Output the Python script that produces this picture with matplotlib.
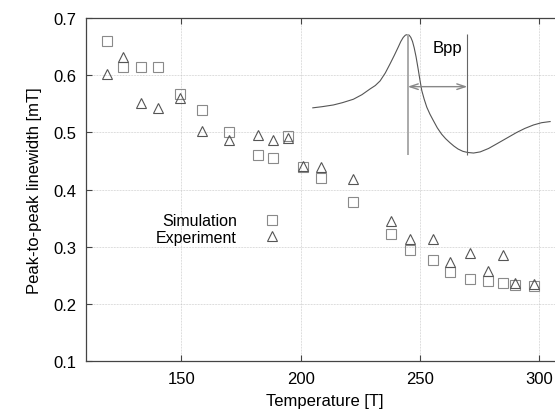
import matplotlib
matplotlib.use('Agg')
import matplotlib.pyplot as plt

plt.rcParams['font.family'] = ['Liberation Sans', 'DejaVu Sans']

# temperatures of the measurements
temp = [119, 125.5, 133, 140, 149.5, 158.5, 170, 182, 188.5, 194.5, 201, 208.5,
        222, 238, 246, 255.5, 262.5, 271, 278.5, 285, 290, 298]
sim = [0.659, 0.615, 0.615, 0.615, 0.567, 0.540, 0.500, 0.461, 0.455, 0.493, 0.440, 0.421,
       0.378, 0.322, 0.295, 0.277, 0.256, 0.244, 0.240, 0.237, 0.234, 0.231]
exp = [0.602, 0.631, 0.551, 0.542, 0.560, 0.503, 0.487, 0.495, 0.486, 0.490, 0.442, 0.440,
       0.418, 0.346, 0.313, 0.313, 0.273, 0.289, 0.258, 0.285, 0.236, 0.235]

# sketch of the derivative line shape (inset)
curve_x = [205.1, 209.0, 213.7, 217.5, 222.1, 225.7, 229.1, 231.3, 233.3, 235.5, 237.5, 239.3,
           240.9, 242.0, 243.0, 243.9, 244.7, 245.5, 246.2, 246.9, 247.6, 248.4, 249.3, 250.0,
           250.8, 251.8, 252.9, 254.2, 255.6, 257.3, 259.1, 260.8, 262.6, 264.3, 266.0, 268.0,
           270.0, 272.5, 275.3, 278.8, 282.2, 286.4, 290.6, 294.0, 297.6, 301.0, 304.6]
curve_y = [0.543, 0.545, 0.548, 0.552, 0.558, 0.566, 0.576, 0.582, 0.590, 0.604, 0.620, 0.635,
           0.649, 0.659, 0.666, 0.670, 0.671, 0.670, 0.666, 0.659, 0.648, 0.632, 0.610, 0.592,
           0.573, 0.558, 0.544, 0.532, 0.521, 0.508, 0.497, 0.489, 0.482, 0.476, 0.471, 0.467,
           0.465, 0.464, 0.466, 0.472, 0.480, 0.490, 0.500, 0.507, 0.513, 0.517, 0.519]
peak_x = [244.9, 269.9]
line_lo, line_hi = 0.46, 0.672
arrow_y = 0.580

fig = plt.figure(figsize=(5.55, 4.14), dpi=100)
ax = fig.add_axes([0.155, 0.1249, 0.8594, 0.8292])

ax.plot(temp, sim, ls='none', marker='s', ms=7.2, mfc='none', mec='#8a8a8a', mew=0.8,
        label='Simulation')
ax.plot(temp, exp, ls='none', marker='^', ms=7.5, mfc='none', mec='#555555', mew=0.8,
        label='Experiment')

# inset
ax.plot(curve_x, curve_y, color='#555555', lw=0.8)
ax.vlines(peak_x[0], line_lo, line_hi, color='#aaaaaa', lw=1.4)
ax.vlines(peak_x[1], line_lo, line_hi, color='#666666', lw=0.8)
ax.annotate('', xy=(peak_x[0], arrow_y), xytext=(peak_x[1], arrow_y),
            arrowprops=dict(arrowstyle='<->,head_length=0.6,head_width=0.2',
                            color='#888888', lw=1.0, shrinkA=0, shrinkB=0))
ax.text(261.4, 0.649, 'Bpp', fontsize=12, ha='center', va='center')

ax.set_xlim(110, 310)
ax.set_ylim(0.1, 0.7)
ax.set_xticks([150, 200, 250, 300])
ax.set_yticks([0.1, 0.2, 0.3, 0.4, 0.5, 0.6, 0.7])
ax.grid(True, color='#bbbbbb', ls=(0, (1, 1.2)), lw=0.5)
ax.tick_params(direction='in', length=4, width=0.8, color='#444444', labelsize=12,
               top=True, right=True, pad=7)
for s in ax.spines.values():
    s.set_color('#444444')
    s.set_linewidth(0.9)

ax.set_xlabel('Temperature [T]', fontsize=12, labelpad=5)
ax.set_ylabel('Peak-to-peak linewidth [mT]', fontsize=12, labelpad=8)

ax.legend(loc='upper right', bbox_to_anchor=(0.4235, 0.431), frameon=False,
          markerfirst=False, fontsize=11.5, borderpad=0, borderaxespad=0,
          handlelength=2.0, handletextpad=1.2, labelspacing=0.08)

fig.savefig('out.png', dpi=100)
